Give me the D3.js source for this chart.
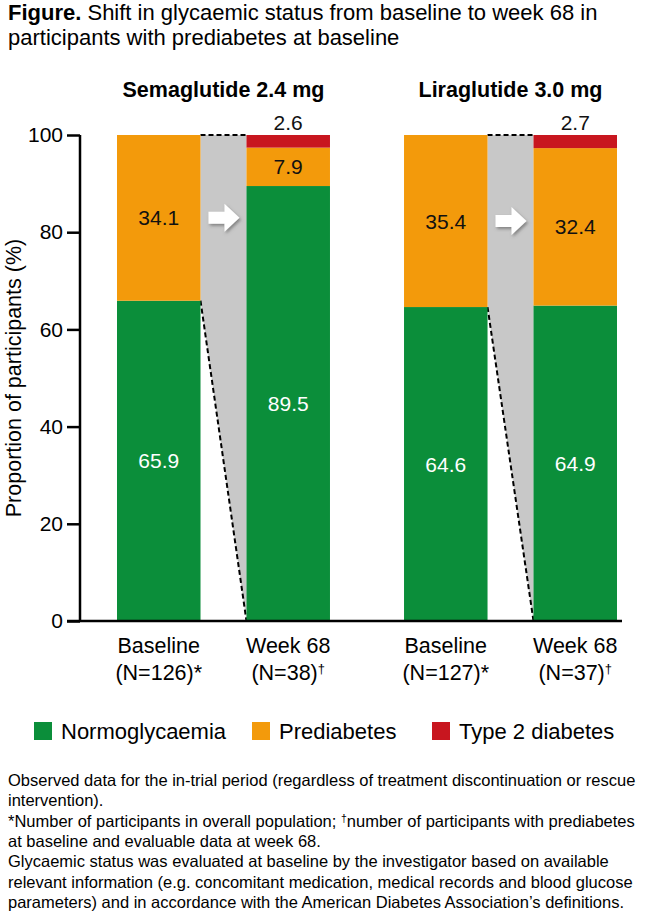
<!DOCTYPE html>
<html>
<head>
<meta charset="utf-8">
<script src="https://cdn.jsdelivr.net/npm/d3@7"></script>
<style>
  body { margin: 0; background: #fff; }
  text { font-family: "Liberation Sans", Arial, Helvetica, sans-serif; }
</style>
</head>
<body>
<script>

// data
var treatments = ['Semaglutide 2.4 mg', 'Liraglutide 3.0 mg'];
var timepoints = ['Baseline', 'Week 68'];
var nLabels = [['(N=126)', '(N=38)'], ['(N=127)', '(N=37)']];
var nMarks = [['*', '\u2020'], ['*', '\u2020']];
var statuses = ['Normoglycaemia', 'Prediabetes', 'Type 2 diabetes'];
var normo = [[65.9, 89.5], [64.6, 64.9]];
var pre = [[34.1, 7.9], [35.4, 32.4]];
var t2d = [[0, 2.6], [0, 2.7]];
var yTicks = [0, 20, 40, 60, 80, 100];
var colors = ['#0b8e3a', '#f39a0b', '#c8161f'];

var footLines = [
    ['Observed data for the in-trial period (regardless of treatment discontinuation or rescue'],
    ['intervention).'],
    ['*Number of participants in overall population; ', '\u2020', 'number of participants with prediabetes'],
    ['at baseline and evaluable data at week 68.'],
    ['Glycaemic status was evaluated at baseline by the investigator based on available'],
    ['relevant information (e.g. concomitant medication, medical records and blood glucose'],
    ['parameters) and in accordance with the American Diabetes Association\u2019s definitions.']
];

var svg = d3.select('body').append('svg')
    .attr('width', 658)
    .attr('height', 913);

// drop shadow for arrows
var defs = svg.append('defs');
var filt = defs.append('filter').attr('id', 'shadow')
    .attr('x', '-30%').attr('y', '-30%').attr('width', '170%').attr('height', '170%');
filt.append('feDropShadow')
    .attr('dx', 1.5).attr('dy', 2).attr('stdDeviation', 1.5)
    .attr('flood-color', '#555').attr('flood-opacity', 0.6);

// title
var title = svg.append('text').attr('x', 8).attr('y', 20).attr('font-size', 22);
title.append('tspan').attr('font-weight', 'bold').text('Figure.');
title.append('tspan').text(' Shift in glycaemic status from baseline to week 68 in');
svg.append('text').attr('x', 8).attr('y', 45).attr('font-size', 22)
    .text('participants with prediabetes at baseline');

// scales
var y = d3.scaleLinear().domain([0, 100]).range([621, 135]);
var xg = d3.scaleBand().domain(treatments).range([117, 617]).paddingInner(0.258);
var xb = d3.scaleBand().domain(timepoints).range([0, xg.bandwidth()]).paddingInner(0.355);

// y axis
var yAxis = svg.append('g')
    .attr('transform', 'translate(80,0)')
    .call(d3.axisLeft(y).tickValues(yTicks).tickSize(13).tickPadding(4));
yAxis.select('.domain').attr('stroke', '#000').attr('stroke-width', 2.5)
    .attr('d', 'M0,' + y(100) + 'V' + y(0));
yAxis.selectAll('.tick line').attr('stroke', '#000').attr('stroke-width', 2.5);
yAxis.selectAll('.tick text').attr('font-size', 21).attr('fill', '#000')
    .attr('font-family', '"Liberation Sans", Arial, sans-serif');

svg.append('text')
    .attr('transform', 'translate(21,' + y(50) + ') rotate(-90)')
    .attr('text-anchor', 'middle')
    .attr('font-size', 21.5)
    .text('Proportion of participants (%)');

// build stacks
treatments.forEach(function(tr, ti) {
    var g = svg.append('g').attr('transform', 'translate(' + xg(tr) + ',0)');
    var x0 = xb('Baseline') + xb.bandwidth();
    var x1 = xb('Week 68');

    // grey connector
    g.append('path')
        .attr('d', 'M' + x0 + ',' + y(100) + 'L' + x1 + ',' + y(100) + 'L' + x1 + ',' + y(0) +
            'L' + x0 + ',' + y(normo[ti][0]) + 'Z')
        .attr('fill', '#c8c8c8');
    g.append('line')
        .attr('x1', x0).attr('y1', y(100)).attr('x2', x1).attr('y2', y(100))
        .attr('stroke', '#000').attr('stroke-width', 2).attr('stroke-dasharray', '5,3');
    g.append('line')
        .attr('x1', x0).attr('y1', y(normo[ti][0])).attr('x2', x1).attr('y2', y(0))
        .attr('stroke', '#000').attr('stroke-width', 2).attr('stroke-dasharray', '5,3');

    // arrow
    var ax = (x0 + x1) / 2;
    var ay = y(normo[ti][0] + pre[ti][0] / 2);
    g.append('path')
        .attr('d', 'M' + (ax - 15) + ',' + (ay - 6) + 'h16v-8l15,14l-15,14v-8h-16z')
        .attr('fill', '#fff')
        .attr('filter', 'url(#shadow)');

    timepoints.forEach(function(tp, pi) {
        var vals = [normo[ti][pi], pre[ti][pi], t2d[ti][pi]];
        var bx = xb(tp);
        var bw = xb.bandwidth();
        var base = 0;
        vals.forEach(function(v, si) {
            if (v > 0) {
                g.append('rect')
                    .attr('x', bx).attr('width', bw)
                    .attr('y', y(base + v)).attr('height', y(base) - y(base + v))
                    .attr('fill', colors[si]);
                var ly = si == 2 ? y(100) - 5 : y(base + v / 2) + 7.5;
                g.append('text')
                    .attr('x', bx + bw / 2).attr('y', ly)
                    .attr('text-anchor', 'middle')
                    .attr('font-size', 21)
                    .attr('fill', si == 0 ? '#fff' : '#111')
                    .text(v.toFixed(1));
            }
            base += v;
        });

        // x labels
        g.append('text')
            .attr('x', bx + bw / 2).attr('y', 653)
            .attr('text-anchor', 'middle').attr('font-size', 21.5)
            .text(tp);
        var nl = g.append('text')
            .attr('x', bx + bw / 2).attr('y', 680)
            .attr('text-anchor', 'middle').attr('font-size', 21.5);
        nl.append('tspan').text(nLabels[ti][pi]);
        nl.append('tspan').attr('font-size', nMarks[ti][pi] == '*' ? 21.5 : 13)
            .attr('dy', nMarks[ti][pi] == '*' ? 0 : -7)
            .text(nMarks[ti][pi]);
    });

    // panel title
    svg.append('text')
        .attr('x', xg(tr) + xg.bandwidth() / 2).attr('y', 97)
        .attr('text-anchor', 'middle')
        .attr('font-size', 21.5).attr('font-weight', 'bold')
        .text(tr);
});

// x axis line
svg.append('line')
    .attr('x1', 67).attr('x2', 622).attr('y1', y(0)).attr('y2', y(0))
    .attr('stroke', '#000').attr('stroke-width', 2.5);

// legend
var legX = [34, 252, 432];
var legend = svg.selectAll('.leg').data(statuses).enter().append('g')
    .attr('class', 'leg')
    .attr('transform', function(d, i) { return 'translate(' + legX[i] + ',722)'; });
legend.append('rect').attr('width', 18).attr('height', 18)
    .attr('fill', function(d, i) { return colors[i]; });
legend.append('text').attr('x', 27).attr('y', 17).attr('font-size', 22)
    .text(function(d) { return d; });

// footnotes
footLines.forEach(function(parts, i) {
    var t = svg.append('text').attr('x', 8).attr('y', 786 + i * 20.3).attr('font-size', 16.5);
    parts.forEach(function(p) {
        if (p == '\u2020') {
            t.append('tspan').attr('font-size', 10.5).attr('dy', -5).text(p);
        } else {
            var s = t.append('tspan').text(p);
            if (t.selectAll('tspan').size() > 1) s.attr('dy', 5);
        }
    });
});

</script>
</body>
</html>
